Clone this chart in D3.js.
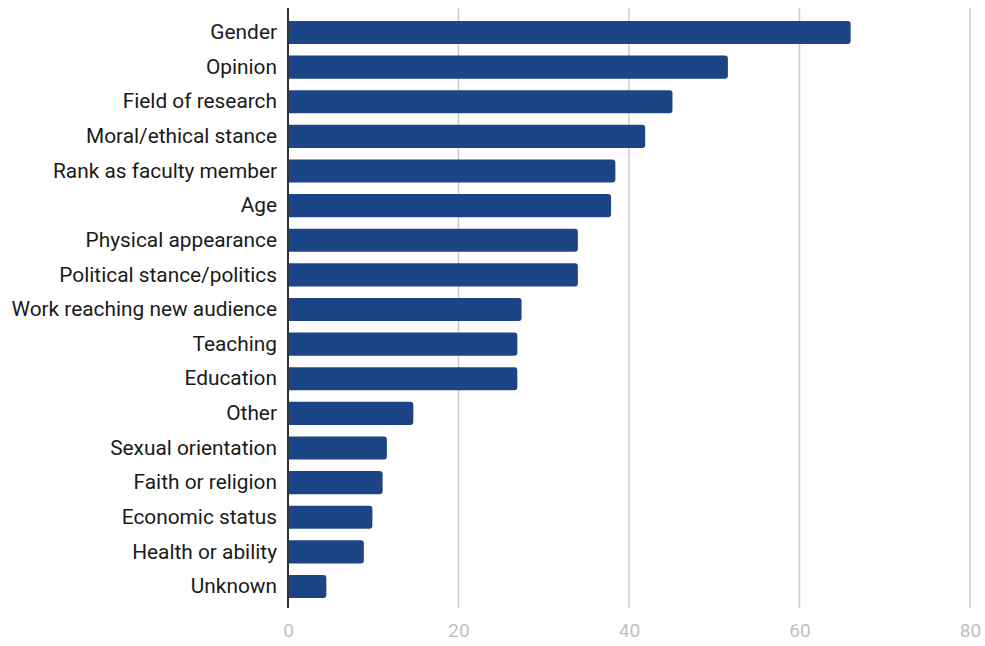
<!DOCTYPE html>
<html><head><meta charset="utf-8">
<script src="https://cdn.jsdelivr.net/npm/d3@7"></script>
<style>
html,body{margin:0;padding:0;background:#fff;}
svg{display:block;font-family:Roboto,"Noto Sans",sans-serif;}
</style></head>
<body>
<svg id="chart" width="985" height="646"></svg>
<script>
const categories = ["Gender","Opinion","Field of research","Moral/ethical stance","Rank as faculty member","Age","Physical appearance","Political stance/politics","Work reaching new audience","Teaching","Education","Other","Sexual orientation","Faith or religion","Economic status","Health or ability","Unknown"];
const values = [66.0, 51.6, 45.1, 41.9, 38.4, 37.9, 34.0, 34.0, 27.4, 26.9, 26.9, 14.7, 11.6, 11.1, 9.9, 8.9, 4.5];
const xTicks = [0, 20, 40, 60, 80];

(function () {
const svg = d3.select("#chart");
const mLeft = 288, mRight = 970, mTop = 8, mBottom = 608;

const x = d3.scaleLinear().domain([0, 80]).range([mLeft, mRight]);
const y = d3.scaleBand().domain(categories).range([mTop + 1.5, mBottom + 1.5]).paddingInner(0.33).paddingOuter(0.33);

// gridlines
svg.append("g").selectAll("line").data(xTicks.filter(d => d > 0)).join("line")
  .attr("x1", d => x(d)).attr("x2", d => x(d))
  .attr("y1", mTop).attr("y2", mBottom)
  .attr("stroke", "#cccccc").attr("stroke-width", 1.5);

// bars with rounded right corners
const r = 3;
svg.append("g").selectAll("path").data(categories).join("path")
  .attr("fill", "#1c4587")
  .attr("d", (c, i) => {
    const x0 = x(0), x1 = x(values[i]), y0 = y(c), h = y.bandwidth();
    return `M${x0},${y0} H${x1 - r} Q${x1},${y0} ${x1},${y0 + r} V${y0 + h - r} Q${x1},${y0 + h} ${x1 - r},${y0 + h} H${x0} Z`;
  });

// baseline axis
svg.append("line").attr("x1", x(0)).attr("x2", x(0)).attr("y1", mTop).attr("y2", mBottom)
  .attr("stroke", "#333333").attr("stroke-width", 2);

// category labels
const yAxis = d3.axisLeft(y).tickSize(0).tickPadding(11);
const gy = svg.append("g").attr("transform", `translate(${mLeft},0)`).call(yAxis);
gy.select(".domain").remove();
gy.selectAll("text").attr("font-size", 20.85).attr("fill", "#1a1a1a").attr("font-family", "Roboto, sans-serif");

// x tick labels
const xAxis = d3.axisBottom(x).tickValues(xTicks).tickSize(0).tickPadding(0);
const gx = svg.append("g").attr("transform", `translate(0,${mBottom + 15})`).call(xAxis);
gx.select(".domain").remove();
gx.selectAll("text").attr("font-size", 19).attr("fill", "#c0c0c0").attr("font-family", "Roboto, sans-serif");
})();
</script>
</body></html>
